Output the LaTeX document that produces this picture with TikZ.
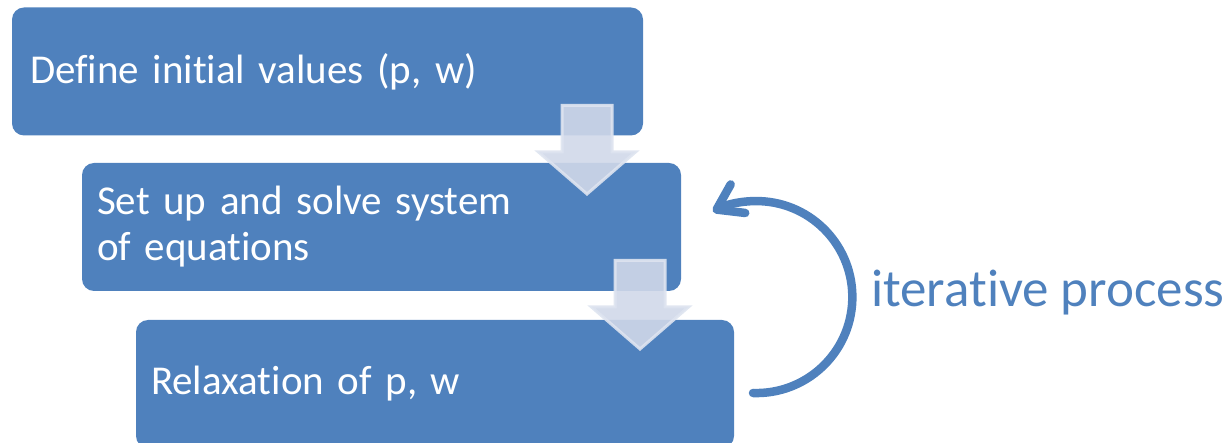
\documentclass[tikz,border=0pt]{standalone}
\usepackage{fontspec}
\setmainfont{Carlito}[Ligatures={NoCommon}]
\usetikzlibrary{arrows.meta}

\definecolor{boxblue}{RGB}{79,129,189}
\definecolor{arrowfill}{RGB}{208,216,233}
\definecolor{arrowedge}{RGB}{222,228,240}

\begin{document}
\begin{tikzpicture}[
    x=1pt, y=-1pt,
    box/.style={fill=boxblue,rounded corners=12pt,minimum height=128pt,
      inner xsep=15pt,align=left,text=white,
      font=\fontsize{41}{46}\selectfont},
    blockarrow/.style={fill=arrowfill,draw=arrowedge,line width=3pt,opacity=0.9},
    looparrow/.style={draw=boxblue,line width=8.5pt,line cap=round,
      -{Straight Barb[length=24pt,width=32pt,line cap=round,line join=round]}}]
  \clip (0,0) rectangle (1232,443);
  \node[box,inner xsep=18pt,text width=595pt] (define) at (327.5,71.5) {Define initial values (p, w)};
  \node[box,text width=569pt] (solve) at (381.5,227) {Set up and solve system\\of equations};
  \node[box,text width=568pt] (relax) at (435,384) {Relaxation of p, w};
  % block arrows between the steps
  \foreach \ax/\ay in {587/104,640/259}
    \draw[blockarrow] (\ax-25,\ay+1.5) -- (\ax+25,\ay+1.5) -- (\ax+25,\ay+48)
      -- (\ax+48.5,\ay+48) -- (\ax,\ay+90) -- (\ax-48.5,\ay+48)
      -- (\ax-25,\ay+48) -- cycle;
  % loop back from relaxation to the solve step
  \coordinate (loopstart) at (753,393);
  \draw[looparrow] (loopstart) arc[start angle=92,end angle=-117,radius=96];
  \node[anchor=base west,inner sep=0pt,text=boxblue,
    font=\fontsize{53}{60}\selectfont] (iter) at (871,307) {iterative process};
\end{tikzpicture}
\end{document}
